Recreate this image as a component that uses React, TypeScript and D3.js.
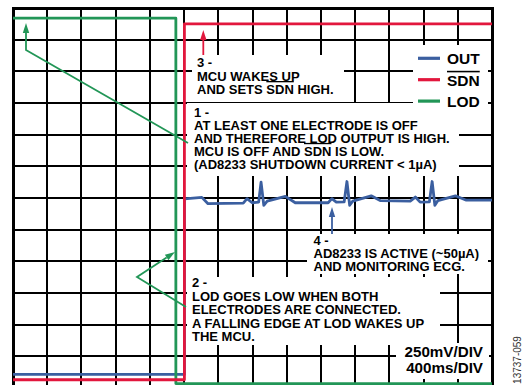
import * as React from "react";
import * as d3 from "d3";

// screen is 14 x 12 divisions, values below are in divisions
const gridCols = 14;
const gridRows = 12;
const scaleLabels = ["250mV/DIV", "400ms/DIV"];

const lodTime = [0, 4.76, 4.76, 14];
const lodLevel = [11.68, 11.68, 0.14, 0.14];

const sdnTime = [0, 5.01, 5.01, 14];
const sdnLevel = [0.26, 0.26, 11.5, 11.5];

const outTime = [0, 5.01, 5.01, 5.52, 5.70, 6.73, 6.84, 6.99, 7.18, 7.25,
    7.33, 7.43, 7.96, 8.25, 9.21, 9.32, 9.45, 9.68, 9.76,
    9.84, 9.93, 10.47, 10.73, 11.61, 11.76, 11.90, 12.17, 12.25,
    12.33, 12.42, 12.93, 13.25, 14];
const outLevel = [0.43, 0.43, 5.97, 6.02, 5.82, 5.84, 5.98, 5.85, 5.87, 6.50,
    5.77, 5.90, 6.05, 5.85, 5.85, 5.98, 5.87, 5.88, 6.52,
    5.77, 5.90, 6.07, 5.92, 5.90, 6.03, 5.87, 5.88, 6.52,
    5.77, 5.92, 6.07, 5.93, 5.93];

const seriesNames = ["OUT", "SDN", "LOD"];
const seriesColors = ["#3b5fa0", "#e2173d", "#229657"];

// ^...^ marks an overlined word
const note1 = ["1 -", "AT LEAST ONE ELECTRODE IS OFF", "AND THEREFORE LOD OUTPUT IS HIGH.",
    "MCU IS OFF AND ^SDN^ IS LOW.", "(AD8233 SHUTDOWN CURRENT < 1µA)"];
const note2 = ["2 -", "LOD GOES LOW WHEN BOTH", "ELECTRODES ARE CONNECTED.",
    "A FALLING EDGE AT LOD WAKES UP", "THE MCU."];
const note3 = ["3 -", "MCU WAKES UP", "AND SETS ^SDN^ HIGH."];
const note4 = ["4 -", "AD8233 IS ACTIVE (~50µA)", "AND MONITORING ECG."];

const left = 13, right = 492, top = 8, bottom = 388;
const font = "'Liberation Sans', Arial, Helvetica, sans-serif";

function Arrow(props: { pts: number[][], color: string }) {
    const pts = props.pts;
    const a = pts[pts.length - 2], b = pts[pts.length - 1];
    const ang = Math.atan2(b[1] - a[1], b[0] - a[0]);
    const len = 10, half = 3.2;
    const bx = b[0] - len * Math.cos(ang), by = b[1] - len * Math.sin(ang);
    const nx = -Math.sin(ang) * half, ny = Math.cos(ang) * half;
    const line = pts.slice(0, -1).concat([[bx, by]]);
    return <g>
        <polyline points={line.map(p => p.join(",")).join(" ")} fill="none" stroke={props.color} strokeWidth={1.8} />
        <polygon points={`${b[0]},${b[1]} ${bx + nx},${by + ny} ${bx - nx},${by - ny}`} fill={props.color} />
    </g>;
}

function Note(props: { lines: string[], x: number, y: number, dy: number }) {
    return <text x={props.x} y={props.y} fontFamily={font} fontWeight="bold" fontSize={13} fill="#000">
        {props.lines.map((l, i) => (
            <tspan key={i} x={props.x} y={props.y + i * props.dy}>
                {l.split("^").map((s, j) => j % 2 === 1
                    ? <tspan key={j} style={{ textDecoration: "overline" }}>{s}</tspan>
                    : s)}
            </tspan>
        ))}
    </text>;
}

export default function App() {
    const x = d3.scaleLinear().domain([0, gridCols]).range([left, right]);
    const y = d3.scaleLinear().domain([0, gridRows]).range([bottom, top]);

    const path = (t: number[], v: number[]) =>
        d3.line<number>().x(d => x(t[d])).y(d => y(v[d]))(d3.range(t.length)) || "";

    const masks = [
        [413, 45, 488, 110],
        [192, 55, 344, 102],
        [187, 103, 459, 176],
        [307, 234, 488, 274],
        [187, 277, 440, 345],
        [396, 343, 489, 379],
    ];

    return (
        <svg width={527} height={385} style={{ position: "absolute", left: 0, top: 0, background: "#fff" }}>
            <rect x={0} y={0} width={527} height={385} fill="#fff" />
            <g stroke="#000" strokeWidth={2} shapeRendering="crispEdges">
                {d3.range(1, gridCols).map(i => <line key={"v" + i} x1={Math.round(x(i))} x2={Math.round(x(i))} y1={top} y2={bottom} />)}
                {d3.range(1, gridRows).map(i => <line key={"h" + i} x1={left} x2={right} y1={Math.round(y(i))} y2={Math.round(y(i))} />)}
                <rect x={left} y={top} width={right - left} height={bottom - top} fill="none" strokeWidth={3} />
            </g>
            {masks.map((m, i) => <rect key={i} x={m[0]} y={m[1]} width={m[2] - m[0]} height={m[3] - m[1]} fill="#fff" />)}

            <g fill="none" strokeWidth={2.8} strokeLinejoin="round">
                <path d={path(outTime, outLevel)} stroke={seriesColors[0]} />
                <path d={path(lodTime, lodLevel)} stroke={seriesColors[2]} />
                <path d={path(sdnTime, sdnLevel)} stroke={seriesColors[1]} />
            </g>

            <Arrow pts={[[188, 143], [26, 50], [26, 23]]} color={seriesColors[2]} />
            <Arrow pts={[[186, 307], [137, 277], [175, 252]]} color={seriesColors[2]} />
            <Arrow pts={[[203.3, 55], [203.3, 30]]} color={seriesColors[1]} />
            <Arrow pts={[[332, 234], [332, 207]]} color={seriesColors[0]} />

            <Note lines={note3} x={197} y={67} dy={13.5} />
            <Note lines={note1} x={194} y={116.6} dy={13.1} />
            <Note lines={note4} x={313.5} y={245} dy={13.2} />
            <Note lines={note2} x={192} y={287.3} dy={13.4} />

            {seriesNames.map((n, i) => (
                <g key={n}>
                    <line x1={418} x2={440} y1={58.3 + i * 21.4} y2={58.3 + i * 21.4} stroke={seriesColors[i]} strokeWidth={3.2} />
                    <text x={447} y={64.3 + i * 21.5} fontFamily={font} fontWeight="bold" fontSize={15.5}
                        style={{ textDecoration: n === "SDN" ? "overline" : "none" }}>{n}</text>
                </g>
            ))}

            {scaleLabels.map((s, i) => (
                <text key={s} x={483} y={356.7 + i * 16} textAnchor="end" fontFamily={font} fontWeight="bold" fontSize={15.2}>{s}</text>
            ))}

            <text transform="translate(520.5,360) rotate(-90)" textAnchor="middle" fontFamily={font} fontSize={10} fill="#333">13737-059</text>
        </svg>
    );
}
